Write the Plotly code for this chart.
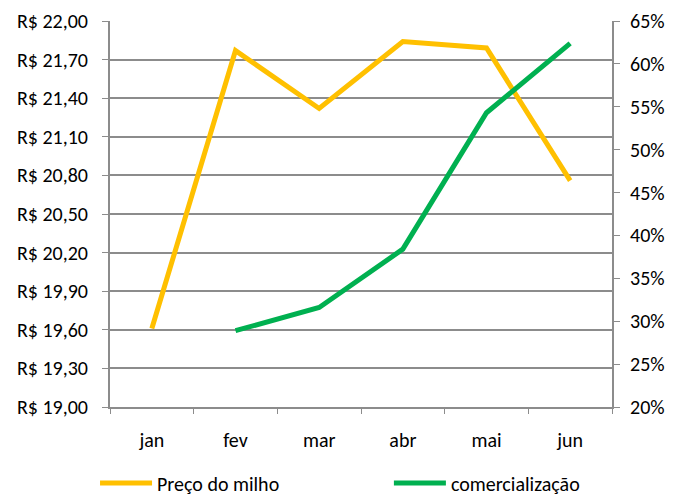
import plotly.graph_objects as go

months = ["jan", "fev", "mar", "abr", "mai", "jun"]
preco = [19.61, 21.77, 21.32, 21.84, 21.79, 20.76]
comerc_months = ["fev", "mar", "abr", "mai", "jun"]
comerc = [28.9, 31.6, 38.4, 54.3, 62.4]

font = "Carlito, Lato, 'Open Sans', sans-serif"
grid = "#8c8c8c"

fig = go.Figure()
fig.add_trace(go.Scatter(x=months, y=preco, name="Preço do milho", mode="lines",
                         line=dict(color="#FFC000", width=5), legend="legend"))
fig.add_trace(go.Scatter(x=comerc_months, y=comerc, name="comercialização", mode="lines",
                         line=dict(color="#00B050", width=5), yaxis="y2", legend="legend2"))

leg_common = dict(orientation="h", xref="container", yref="paper",
                  y=-0.197, xanchor="left", yanchor="middle", itemwidth=52,
                  font=dict(size=20), bgcolor="rgba(0,0,0,0)")

fig.update_layout(
    width=674, height=498,
    margin=dict(l=110, r=62, t=21, b=91, autoexpand=False),
    plot_bgcolor="white", paper_bgcolor="white",
    separators=",.",
    font=dict(family=font, size=20, color="#000"),
    showlegend=True,
    legend=dict(x=0.141, **leg_common),
    legend2=dict(x=0.577, **leg_common),
    xaxis=dict(categoryorder="array", categoryarray=months, range=[-0.5, 5.5],
               showline=True, linecolor=grid, linewidth=2,
               ticks="outside", tickson="boundaries", ticklen=5, tickcolor=grid,
               showgrid=False, ticklabelstandoff=14),
    yaxis=dict(range=[19.0, 22.0], dtick=0.3, tick0=19.0,
               tickprefix="R$ ", tickformat=".2f",
               showline=True, linecolor=grid, linewidth=2,
               ticks="outside", ticklen=6, tickcolor=grid, ticklabelstandoff=10,
               showgrid=True, gridcolor=grid, gridwidth=2, zeroline=False),
    yaxis2=dict(range=[20, 65], dtick=5, tick0=20, ticksuffix="%",
                overlaying="y", side="right",
                showline=True, linecolor=grid, linewidth=2,
                ticks="outside", ticklen=6, tickcolor=grid, ticklabelstandoff=6,
                showgrid=False, zeroline=False),
)

fig.write_html("out.html", config={"displayModeBar": False},
               post_script="document.body.style.margin='0';")
